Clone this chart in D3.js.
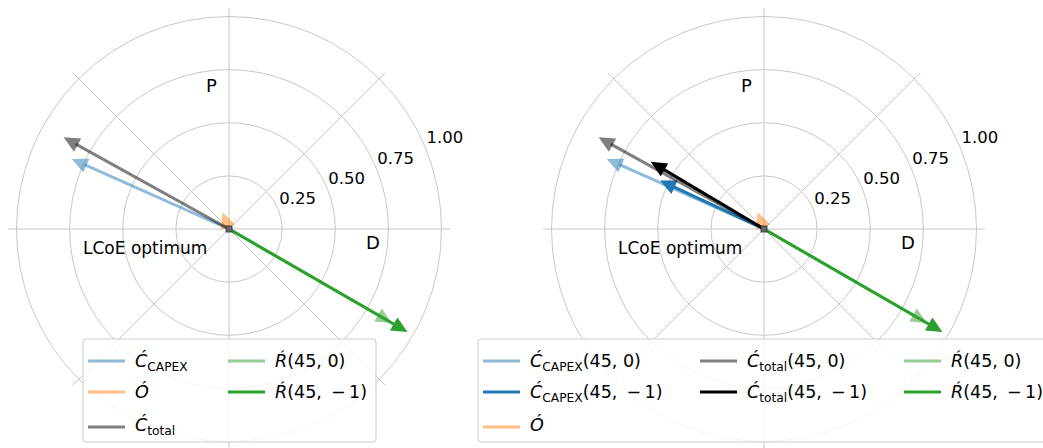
<!DOCTYPE html>
<html><head><meta charset="utf-8">
<script src="https://cdn.jsdelivr.net/npm/d3@7"></script>
<style>body{margin:0;background:#fff}svg{display:block}text{font-family:"DejaVu Sans",sans-serif}</style>
</head><body>
<svg id="c" width="1043" height="448"></svg>
<script>
// ---- data ----
const rTicks = [0.25, 0.5, 0.75, 1.0];
const rTickLabels = ["0.25", "0.50", "0.75", "1.00"];
const spokeAngles = [0, 45, 90, 135, 180, 225, 270, 315];
const rMax = 1.04;
// arrows: angle (deg, ccw from east), magnitude
const leftNames  = ["C_CAPEX", "O", "C_total", "R(45,0)", "R(45,-1)"];
const leftTheta  = [156, 111, 151, -30, -30];
const leftR      = [0.81, 0.085, 0.89, 0.885, 0.97];
const rightNames = ["C_CAPEX(45,0)", "C_CAPEX(45,-1)", "O", "C_total(45,0)", "C_total(45,-1)", "R(45,0)", "R(45,-1)"];
const rightTheta = [156, 155, 111, 151, 149.3, -30, -30];
const rightR     = [0.81, 0.54, 0.085, 0.89, 0.62, 0.885, 0.97];
const colors = {
  "C_CAPEX":"rgba(31,119,180,0.5)", "C_CAPEX(45,0)":"rgba(31,119,180,0.5)", "C_CAPEX(45,-1)":"#1f77b4",
  "O":"rgba(255,127,14,0.5)", "C_total":"rgba(0,0,0,0.5)", "C_total(45,0)":"rgba(0,0,0,0.5)", "C_total(45,-1)":"#000",
  "R(45,0)":"rgba(44,160,44,0.5)", "R(45,-1)":"#2ca02c"
};
const labelParts = {
  "C_CAPEX":[["Ć","i"],["CAPEX","s"]],
  "C_CAPEX(45,0)":[["Ć","i"],["CAPEX","s"],["(45, 0)",""]],
  "C_CAPEX(45,-1)":[["Ć","i"],["CAPEX","s"],["(45, \u2009−\u20091)",""]],
  "O":[["Ó","i"]],
  "C_total":[["Ć","i"],["total","s"]],
  "C_total(45,0)":[["Ć","i"],["total","s"],["(45, 0)",""]],
  "C_total(45,-1)":[["Ć","i"],["total","s"],["(45, \u2009−\u20091)",""]],
  "R(45,0)":[["Ŕ","i"],["(45, 0)",""]],
  "R(45,-1)":[["Ŕ","i"],["(45, \u2009−\u20091)",""]]
};
const leftLegendCols = [["C_CAPEX","O","C_total"],["R(45,0)","R(45,-1)"]];
const rightLegendCols = [["C_CAPEX(45,0)","C_CAPEX(45,-1)","O"],["C_total(45,0)","C_total(45,-1)"],["R(45,0)","R(45,-1)"]];

const svg = d3.select("#c");
const r = d3.scaleLinear().domain([0, rMax]).range([0, 221]);
const FS = 16.5, LFS = 17.5;

function panel(cx, cy, names, thetas, mags, legend) {
  const g = svg.append("g").attr("transform", `translate(${cx},${cy})`);
  const pt = (deg, v) => { const a = deg*Math.PI/180; return [r(v)*Math.cos(a), -r(v)*Math.sin(a)]; };
  // grid
  g.selectAll(".ring").data(rTicks).join("circle").attr("r", d => r(d))
    .attr("fill","none").attr("stroke","#c8c8c8").attr("stroke-width",1);
  g.selectAll(".spoke").data(spokeAngles).join("line")
    .attr("x1",0).attr("y1",0).attr("x2",d=>pt(d,rMax)[0]).attr("y2",d=>pt(d,rMax)[1])
    .attr("stroke","#c8c8c8").attr("stroke-width",1);
  // r tick labels
  g.selectAll(".rl").data(rTicks).join("text")
    .attr("x", d => pt(22.5,d)[0] + 19.5).attr("y", d => pt(22.5,d)[1] - 4.5)
    .attr("text-anchor","middle").attr("font-size",FS).attr("fill","#000")
    .text((d,i)=>rTickLabels[i]);
  // annotations
  g.append("text").attr("x",-17.5).attr("y",-137).attr("text-anchor","middle").attr("font-size",18).text("P");
  g.append("text").attr("x",144).attr("y",20).attr("text-anchor","middle").attr("font-size",18).text("D");
  g.append("text").attr("x",-146).attr("y",25).attr("font-size",FS+0.5).text("LCoE optimum");
  // arrows
  const HL = 16, HW = 7.5;
  names.forEach((n,i) => {
    const [tx,ty] = pt(thetas[i], mags[i]);
    const L = Math.hypot(tx,ty), ux = tx/L, uy = ty/L;
    const bx = tx - ux*HL, by = ty - uy*HL;
    const sx = L > HL ? bx + ux*2 : 0, sy = L > HL ? by + uy*2 : 0;
    if (L > HL) g.append("line").attr("x1",0).attr("y1",0).attr("x2",sx).attr("y2",sy)
      .attr("stroke",colors[n]).attr("stroke-width",3);
    const b0 = L > HL ? [bx,by] : [0,0];
    const px = -uy, py = ux;
    g.append("path").attr("d",`M${tx},${ty}L${b0[0]+px*HW},${b0[1]+py*HW}L${b0[0]-px*HW},${b0[1]-py*HW}Z`)
      .attr("fill",colors[n]);
  });
  // center marker
  g.append("rect").attr("x",-3).attr("y",-3).attr("width",6).attr("height",6)
    .attr("fill","#666").attr("stroke","#333").attr("stroke-width",0.8);
  // legend
  const lg = svg.append("g");
  lg.append("rect").attr("x",legend.x).attr("y",339).attr("width",legend.w).attr("height",103).attr("rx",3)
    .attr("fill","rgba(255,255,255,0.8)").attr("stroke","#cccccc").attr("stroke-width",1);
  const rowY = [361, 392, 427];
  const baseY = [367, 398, 431];
  legend.cols.forEach((col, ci) => {
    col.forEach((n, ri) => {
      const x0 = legend.colX[ci];
      lg.append("line").attr("x1",x0).attr("x2",x0+37).attr("y1",rowY[ri]).attr("y2",rowY[ri])
        .attr("stroke",colors[n]).attr("stroke-width",3);
      const t = lg.append("text").attr("x",x0+47).attr("y",baseY[ri]).attr("font-size",LFS);
      const p = labelParts[n];
      p.forEach(([s,k],j) => {
        const ts = t.append("tspan").text(s);
        if (k==="i") ts.attr("font-style","italic");
        if (k==="s") ts.attr("font-size",LFS*0.7).attr("dy",3.5);
        if (j>0 && p[j-1][1]==="s") ts.attr("dy",-3.5);
      });
    });
  });
}

panel(229, 229, leftNames, leftTheta, leftR, {x:83, w:293, cols:leftLegendCols, colX:[88, 228]});
panel(764, 229, rightNames, rightTheta, rightR, {x:478, w:580, cols:rightLegendCols, colX:[483, 700, 904]});
</script>
</body></html>
